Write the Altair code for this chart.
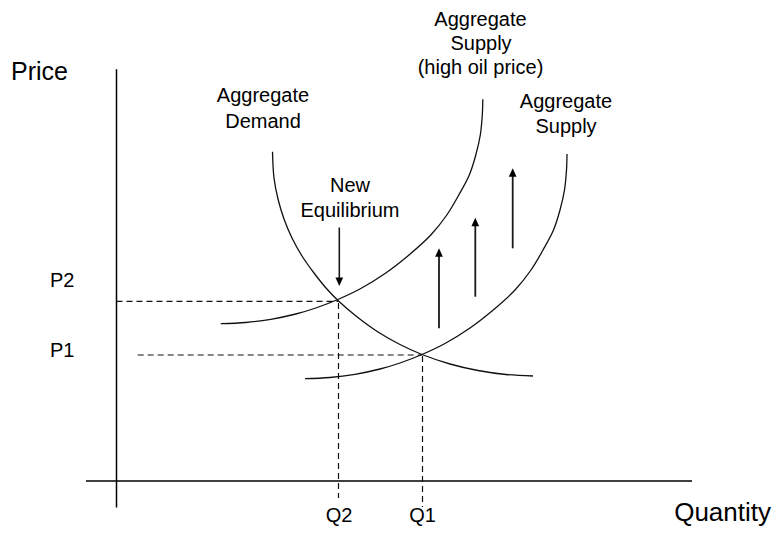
import altair as alt
import pandas as pd

# Diagram space = reference picture pixels (x to the right, y downward)
# Aggregate Demand curve
ad_x = [272.5, 274, 278, 284, 292, 302, 314, 326, 338, 356, 378, 400, 422, 450, 478, 506, 533]
ad_y = [151.7, 178, 199, 219, 238, 256, 273, 288, 300.5, 316, 332, 344.5, 354.5, 364, 370.5, 374.5, 376]
# Aggregate Supply curve
as_x = [305, 330, 355, 380, 400, 422, 445, 470, 492, 515, 531, 543, 553.5, 560, 564.5, 566.5, 567]
as_y = [378.7, 377.5, 374.3, 369, 363, 354.5, 343.5, 328, 311, 290, 270, 250, 230, 210, 190, 170, 154]
# Aggregate Supply (high oil price) curve
ash_x = [220.8, 245.8, 270.8, 295.8, 315.8, 337.8, 360.8, 385.8, 407.8, 430.8, 446.8, 458.8, 469.3, 475.8, 480.3, 482.3, 482.8]
ash_y = [323.7, 322.5, 319.3, 314, 308, 299.5, 288.5, 273, 256, 235, 215, 195, 175, 155, 135, 115, 99.3]

# Axes lines
axis_x = [116.5, 86]
axis_x2 = [116.5, 692]
axis_y = [69.3, 481]
axis_y2 = [507.5, 481]

# Dashed guide lines (P2, P1, Q2, Q1)
dash_x = [116.5, 137.7, 338.5, 422.5]
dash_x2 = [338, 422, 338.5, 422.5]
dash_y = [301.3, 355, 303, 356]
dash_y2 = [301.3, 355, 498, 507]

# Shift arrows (up) and equilibrium arrow (down)
up_x = [439, 475.3, 512.7]
up_base = [328.3, 296.7, 248.3]
up_tip = [248.3, 217.7, 168.3]
down_x = [339.3]
down_base = [227.5]
down_tip = [286]

# Labels
c_text = ["Aggregate", "Demand", "New", "Equilibrium", "Aggregate", "Supply",
          "(high oil price)", "Aggregate", "Supply", "Q2", "Q1"]
c_x = [263, 263, 350, 350, 480.5, 481, 480.5, 566, 566, 339, 422.5]
c_y = [101.7, 127.7, 191.7, 217.3, 25.5, 49.5, 73.5, 108.3, 132.7, 522, 522]
p_text = ["P2", "P1"]
p_x = [50, 50]
p_y = [287.3, 357.3]

FONT = "Liberation Sans"

xs = alt.Scale(domain=[8, 772], nice=False, zero=False)
ys = alt.Scale(domain=[8, 527], nice=False, zero=False, reverse=True)

def X(f):
    return alt.X(f + ":Q", scale=xs, axis=None)

def Y(f):
    return alt.Y(f + ":Q", scale=ys, axis=None)

rows = []
for name, xx, yy in [("AD", ad_x, ad_y), ("AS", as_x, as_y), ("ASH", ash_x, ash_y)]:
    for i, (a, b) in enumerate(zip(xx, yy)):
        rows.append({"series": name, "i": i, "x": a, "y": b})
curves_df = pd.DataFrame(rows)

curves = alt.Chart(curves_df).mark_line(
    interpolate="catmull-rom", color="#111", strokeWidth=1.3
).encode(x=X("x"), y=Y("y"), detail="series:N", order="i:Q")

axes_df = pd.DataFrame({"x": axis_x, "x2": axis_x2, "y": axis_y, "y2": axis_y2})
axes = alt.Chart(axes_df).mark_rule(color="#000", strokeWidth=1.5).encode(
    x=X("x"), x2="x2:Q", y=Y("y"), y2="y2:Q")

dash_df = pd.DataFrame({"x": dash_x, "x2": dash_x2, "y": dash_y, "y2": dash_y2})
dashes = alt.Chart(dash_df).mark_rule(
    color="#111", strokeWidth=1.2, strokeDash=[6, 4]
).encode(x=X("x"), x2="x2:Q", y=Y("y"), y2="y2:Q")

up_df = pd.DataFrame({"x": up_x, "y": up_base, "tip": up_tip})
up_shaft = alt.Chart(up_df).transform_calculate(y2="datum.tip + 5").mark_rule(
    color="#1a1a1a", strokeWidth=1.8).encode(x=X("x"), y=Y("y"), y2="y2:Q")
up_head = alt.Chart(up_df).mark_point(
    shape="M0,0L-1,2.2L1,2.2Z", filled=True, opacity=1, color="#000", size=60
).encode(x=X("x"), y=Y("tip"))

dn_df = pd.DataFrame({"x": down_x, "y": down_base, "tip": down_tip})
dn_shaft = alt.Chart(dn_df).transform_calculate(y2="datum.tip - 5").mark_rule(
    color="#1a1a1a", strokeWidth=1.6).encode(x=X("x"), y=Y("y"), y2="y2:Q")
dn_head = alt.Chart(dn_df).mark_point(
    shape="M0,0L-1,-2.2L1,-2.2Z", filled=True, opacity=1, color="#000", size=60
).encode(x=X("x"), y=Y("tip"))

c_df = pd.DataFrame({"t": c_text, "x": c_x, "y": c_y})
c_labels = alt.Chart(c_df).mark_text(
    align="center", baseline="alphabetic", font=FONT, fontSize=20, color="#000"
).encode(x=X("x"), y=Y("y"), text="t:N")

p_df = pd.DataFrame({"t": p_text, "x": p_x, "y": p_y})
p_labels = alt.Chart(p_df).mark_text(
    align="left", baseline="alphabetic", font=FONT, fontSize=20, color="#000"
).encode(x=X("x"), y=Y("y"), text="t:N")

price_df = pd.DataFrame({"t": ["Price"], "x": [11], "y": [80]})
price = alt.Chart(price_df).mark_text(
    align="left", baseline="alphabetic", font=FONT, fontSize=25, color="#000"
).encode(x=X("x"), y=Y("y"), text="t:N")

qty_df = pd.DataFrame({"t": ["Quantity"], "x": [771], "y": [520.5]})
qty = alt.Chart(qty_df).mark_text(
    align="right", baseline="alphabetic", font=FONT, fontSize=26, color="#000"
).encode(x=X("x"), y=Y("y"), text="t:N")

chart = alt.layer(
    axes, dashes, curves, up_shaft, up_head, dn_shaft, dn_head,
    c_labels, p_labels, price, qty
).properties(
    width=764, height=519, padding=0,
    autosize=alt.AutoSizeParams(type="none"),
    background="white",
).configure_view(stroke=None)

chart.save("out.html", embed_options={"renderer": "svg", "actions": False})
